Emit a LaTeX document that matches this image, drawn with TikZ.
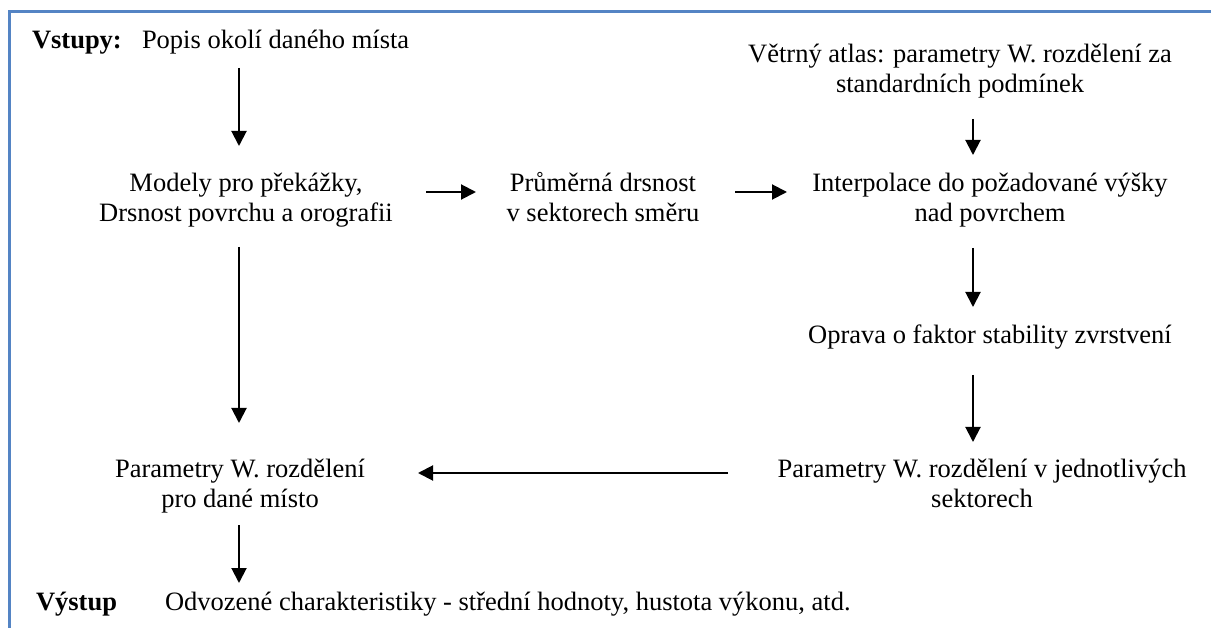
\documentclass[tikz,border=0pt]{standalone}
\usepackage{fontspec}
\setmainfont{Liberation Serif}
\usetikzlibrary{arrows.meta}
\definecolor{frameblue}{RGB}{84,132,196}
\tikzset{
  txt/.style={inner sep=0pt, outer sep=0pt, font=\fontsize{26.5}{30}\selectfont, align=center, anchor=base},
  txtl/.style={txt, anchor=base west, align=left},
  arr/.style={line width=2pt, -{Triangle[width=15pt,length=15pt]}},
  frame/.style={draw=frameblue, line width=3pt}
}
\begin{document}
\begin{tikzpicture}[x=1pt,y=-1pt]
\useasboundingbox (0,0) rectangle (1211,628);
\draw[frame] (9.5,628) -- (9.5,11.5) -- (1211,11.5);

% two-line nodes: the base anchor is the baseline of the last line
\node[txtl, font=\fontsize{26.5}{30}\selectfont\bfseries] (vstupy) at (32,49) {Vstupy:};
\node[txtl] (popis) at (142,49) {Popis okolí daného místa};
\node[txt] (atlas) at (960,93) {Větrný atlas: parametry W. rozdělení za\\standardních podmínek};
\node[txt] (modely) at (246,222) {Modely pro překážky,\\Drsnost povrchu a orografii};
\node[txt] (prumer) at (603,222) {Průměrná drsnost\\v sektorech směru};
\node[txt] (interp) at (990,222) {Interpolace do požadované výšky\\nad povrchem};
\node[txt] (oprava) at (990,344) {Oprava o faktor stability zvrstvení};
\node[txt] (params) at (982,507) {Parametry W. rozdělení v jednotlivých\\sektorech};
\node[txt] (paramm) at (240,507) {Parametry W. rozdělení\\pro dané místo};
\node[txtl, font=\fontsize{26.5}{30}\selectfont\bfseries] (vystup) at (36,610) {Výstup};
\node[txtl] (odvoz) at (165,610) {Odvozené charakteristiky - střední hodnoty, hustota výkonu, atd.};

\coordinate (a1s) at (239,68);  \coordinate (a1e) at (239,146);
\coordinate (a2s) at (973,119); \coordinate (a2e) at (973,155);
\coordinate (h1s) at (426,192); \coordinate (h1e) at (476,192);
\coordinate (h2s) at (735,192); \coordinate (h2e) at (787,192);
\coordinate (a3s) at (973,248); \coordinate (a3e) at (973,307);
\coordinate (a4s) at (973,375); \coordinate (a4e) at (973,442);
\coordinate (h3s) at (728,473); \coordinate (h3e) at (418,473);
\coordinate (a5s) at (239,247); \coordinate (a5e) at (239,423);
\coordinate (a6s) at (239,525); \coordinate (a6e) at (239,583);

\draw[arr] (a1s) -- (a1e);
\draw[arr] (a2s) -- (a2e);
\draw[arr] (h1s) -- (h1e);
\draw[arr] (h2s) -- (h2e);
\draw[arr] (a3s) -- (a3e);
\draw[arr] (a4s) -- (a4e);
\draw[arr] (h3s) -- (h3e);
\draw[arr] (a5s) -- (a5e);
\draw[arr] (a6s) -- (a6e);
\end{tikzpicture}
\end{document}
